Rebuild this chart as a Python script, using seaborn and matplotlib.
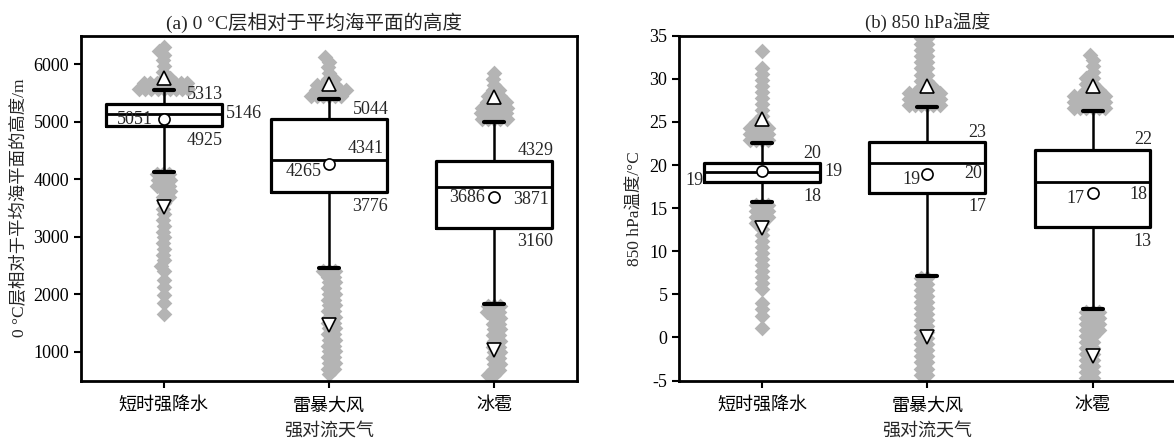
import numpy as np
import pandas as pd
import matplotlib
matplotlib.use("Agg")
import matplotlib.pyplot as plt
import seaborn as sns

categories = ["短时强降水", "雷暴大风", "冰雹"]

# (a) height of the 0 °C layer above mean sea level (m)
a_q1 = [4925, 3776, 3160]
a_med = [5146, 4341, 3871]
a_q3 = [5313, 5044, 4329]
a_mean = [5051, 4265, 3686]
a_whislo = [4131, 2453, 1834]
a_whishi = [5549, 5398, 5000]
a_pct_hi = [5757, 5664, 5432]
a_pct_lo = [3523, 1469, 1035]
# outliers: levels and number of points at each level
a_out_lev = [
    [5570, 5670, 5770, 5870, 5970, 6070, 6170, 6240, 6300,
     4090, 3990, 3890, 3790, 3690, 3590, 3490, 3390, 3290, 3190, 3090,
     2990, 2890, 2790, 2690, 2590, 2490, 2400, 2250, 2130, 1990, 1850, 1650],
    [5450, 5550, 5650, 5750, 5850, 5950, 6050, 6130,
     2410, 2310, 2210, 2110, 2010, 1910, 1810, 1710, 1610, 1510, 1410,
     1310, 1210, 1110, 1010, 910, 810, 710, 610],
    [5050, 5150, 5250, 5350, 5450, 5550, 5650, 5750, 5850,
     1790, 1690, 1590, 1490, 1390, 1290, 1190, 1090, 990, 890, 790, 690, 590],
]
a_out_cnt = [
    [9, 8, 2, 1, 1, 1, 1, 1, 1,
     3, 3, 3, 2, 2, 1, 1, 1, 1, 1, 1,
     1, 1, 1, 1, 1, 1, 1, 1, 1, 1, 1, 1],
    [6, 6, 4, 2, 1, 1, 1, 1,
     3, 2, 2, 2, 2, 2, 2, 2, 2, 2, 2,
     2, 2, 2, 2, 2, 2, 2, 1],
    [5, 5, 5, 4, 3, 2, 1, 1, 1,
     3, 3, 2, 2, 2, 2, 2, 2, 2, 2, 2, 2, 2],
]

# (b) 850 hPa temperature (°C)
b_q1 = [18.0, 16.8, 12.8]
b_med = [19.2, 20.2, 18.0]
b_q3 = [20.2, 22.7, 21.8]
b_mean = [19.3, 19.0, 16.8]
b_whislo = [15.7, 7.1, 3.3]
b_whishi = [22.6, 26.7, 26.3]
b_pct_hi = [25.3, 29.2, 29.2]
b_pct_lo = [12.7, 0.0, -2.2]
b_out_lev = [
    [22.9, 23.6, 24.3, 25.0, 25.7, 26.4, 27.1, 27.8, 28.5, 29.2, 29.9, 30.6,
     31.3, 33.2,
     15.4, 14.7, 14.0, 13.3, 12.6, 11.9, 11.2, 10.5, 9.8, 9.1, 8.4, 7.7,
     7.0, 6.3, 5.6, 4.0, 3.3, 2.5, 1.1],
    [27.0, 27.7, 28.4, 29.1, 29.8, 30.5, 31.2, 31.9, 32.6, 33.3, 34.0, 34.7,
     6.9, 6.2, 5.5, 4.8, 4.1, 3.4, 2.7, 2.0, 1.3, 0.6, -0.1, -0.8, -1.5,
     -2.2, -2.9, -3.6, -4.3],
    [26.6, 27.3, 28.0, 28.7, 29.4, 30.1, 30.8, 31.5, 32.2, 32.8,
     3.0, 2.3, 1.6, 0.9, 0.2, -0.5, -1.2, -1.9, -2.6, -3.3, -4.0, -4.7],
]
b_out_cnt = [
    [4, 4, 4, 2, 1, 1, 1, 1, 1, 1, 1, 1,
     1, 1,
     3, 3, 3, 2, 1, 1, 1, 1, 1, 1, 1, 1,
     1, 1, 1, 1, 1, 1, 1],
    [6, 6, 6, 3, 2, 2, 2, 2, 2, 2, 2, 2,
     2, 2, 2, 2, 2, 2, 2, 2, 2, 2, 2, 2, 2,
     2, 2, 2, 2],
    [6, 6, 6, 3, 2, 2, 1, 1, 1, 1,
     3, 3, 3, 3, 2, 2, 2, 2, 2, 2, 2, 2],
]

sns.set_style("ticks")
plt.rcParams["font.family"] = ["Liberation Serif", "Noto Sans CJK SC"]
plt.rcParams["axes.unicode_minus"] = False
plt.rcParams["font.size"] = 13

GRAY = "#b4b4b4"
HW = 0.35
swarms = []


def outlier_frame(levels, counts):
    rows = []
    for cat, lev, cnt in zip(categories, levels, counts):
        for v in np.repeat(lev, cnt):
            rows.append((cat, v))
    return pd.DataFrame(rows, columns=["cat", "val"])


def draw_panel(ax, q1, med, q3, mean, wlo, whi, p_hi, p_lo, out_lev, out_cnt,
               ylim, fmt, med_off, mean_off):
    df = outlier_frame(out_lev, out_cnt)
    ax.set_ylim(*ylim)
    n0 = len(ax.collections)
    sns.swarmplot(data=df, x="cat", y="val", order=categories, color=GRAY,
                  marker="D", size=4.2, linewidth=0, ax=ax, warn_thresh=1.0,
                  zorder=1)
    swarms.extend(ax.collections[n0:])
    stats = [dict(q1=a, med=m, q3=b, whislo=lo, whishi=hi, fliers=[])
             for a, m, b, lo, hi in zip(q1, med, q3, wlo, whi)]
    ax.bxp(stats, positions=range(3), widths=2 * HW, showfliers=False,
           manage_ticks=False, capwidths=0.12,
           boxprops=dict(color="k", lw=2.3, zorder=3),
           medianprops=dict(color="k", lw=2.0, zorder=3),
           whiskerprops=dict(color="k", lw=1.8, zorder=3),
           capprops=dict(color="k", lw=3.0, zorder=3))
    x = np.arange(3)
    ax.plot(x, p_hi, ls="none", marker="^", ms=10, mfc="white", mec="k",
            mew=1.2, zorder=5)
    ax.plot(x, p_lo, ls="none", marker="v", ms=10, mfc="white", mec="k",
            mew=1.2, zorder=5)
    ax.plot(x, mean, ls="none", marker="o", ms=8, mfc="white", mec="k",
            mew=1.2, zorder=5)
    for i in range(3):
        ax.annotate(fmt(q3[i]), (i + HW, q3[i]), xytext=(1, 7),
                    textcoords="offset points", ha="right", va="center")
        ax.annotate(fmt(q1[i]), (i + HW, q1[i]), xytext=(1, -10),
                    textcoords="offset points", ha="right", va="center")
        dx, dy, ha = med_off[i]
        ax.annotate(fmt(med[i]), (i + HW, med[i]), xytext=(dx, dy),
                    textcoords="offset points", ha=ha, va="center")
        dx, dy = mean_off[i]
        ax.annotate(fmt(mean[i]), (i, mean[i]), xytext=(dx, dy),
                    textcoords="offset points", ha="right", va="center")
    ax.set_xlim(-0.5, 2.5)
    ax.set_xticks(range(3))
    ax.set_xticklabels(categories)
    ax.set_xlabel("强对流天气", labelpad=6)
    for s in ax.spines.values():
        s.set_linewidth(2.0)
        s.set_color("k")
        s.set_zorder(6)
    ax.tick_params(direction="out", length=5, width=1.5, colors="k",
                   labelsize=13)
    ax.tick_params(axis="x", pad=7)


fig = plt.figure(figsize=(11.74, 4.41), dpi=100)
ax1 = fig.add_axes([0.069, 0.137, 0.4225, 0.782])
ax2 = fig.add_axes([0.5786, 0.137, 0.4225, 0.782])

draw_panel(ax1, a_q1, a_med, a_q3, a_mean, a_whislo, a_whishi, a_pct_hi,
           a_pct_lo, a_out_lev, a_out_cnt, (500, 6500),
           lambda v: f"{v:.0f}",
           [(3, 0, "left"), (-2, 8, "right"), (-2, -9, "right")],
           [(-8, 0), (-5, -5), (-7, 0)])
ax1.set_yticks([1000, 2000, 3000, 4000, 5000, 6000])
ax1.set_ylabel("0 °C层相对于平均海平面的高度/m", fontsize=12.5)
ax1.set_title("(a) 0 °C层相对于平均海平面的高度", fontsize=14, pad=5, x=0.47)

draw_panel(ax2, b_q1, b_med, b_q3, b_mean, b_whislo, b_whishi, b_pct_hi,
           b_pct_lo, b_out_lev, b_out_cnt, (-5, 35),
           lambda v: f"{v:.0f}",
           [(3, 0, "left"), (-2, -7, "right"), (-2, -8.5, "right")],
           [(-42, -7), (-5, -4), (-6, -4)])
ax2.set_yticks(range(-5, 36, 5))
ax2.set_ylabel("850 hPa温度/°C", fontsize=12.5)
ax2.set_title("(b) 850 hPa温度", fontsize=13.5, pad=5)

# let seaborn lay out the swarms once, then freeze them and enlarge the
# diamonds so neighbouring outliers merge into a solid cloud
fig.canvas.draw()
for pts in swarms:
    if "draw" in vars(pts):
        del pts.draw
    pts.set_sizes([8.0 ** 2])

fig.savefig("out.png", dpi=100)
